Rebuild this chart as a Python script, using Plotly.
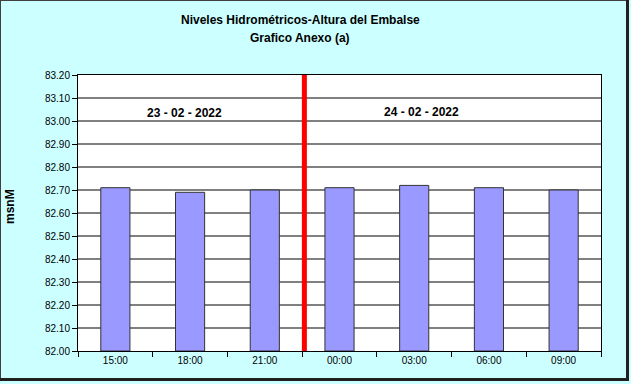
import plotly.graph_objects as go

categories = ["15:00", "18:00", "21:00", "00:00", "03:00", "06:00", "09:00"]
levels = [82.71, 82.69, 82.70, 82.71, 82.72, 82.71, 82.70]
y_ticks = [82.0 + 0.1 * i for i in range(13)]
y_tick_labels = [f"{v:.2f}" for v in y_ticks]
date_labels = ["23 - 02 - 2022", "24 - 02 - 2022"]
date_x = [0.93, 4.1]
date_y = [83.035, 83.04]
title_lines = ["Niveles Hidrométricos-Altura del Embalse", "Grafico Anexo (a)"]
divider_x = 2.53

W, H = 631, 384
L, R, T, B = 78, 30, 75, 33
fw, fh = W - L - R, H - T - B


def px(xp):
    return (xp - L) / fw


def py(yp):
    return (H - B - yp) / fh


fig = go.Figure()
fig.add_trace(go.Bar(
    x=list(range(len(categories))), y=[v - 82.0 for v in levels], base=82.0,
    marker=dict(color="#9999FF", line=dict(color="#333333", width=1)),
    width=0.39, showlegend=False,
))

fig.add_shape(type="line", xref="x", yref="paper", x0=divider_x, x1=divider_x,
              y0=0, y1=1, line=dict(color="#FF0000", width=5), layer="above")

for t, x, y in zip(date_labels, date_x, date_y):
    fig.add_annotation(x=x, y=y, xref="x", yref="y", text=t, showarrow=False,
                       font=dict(family="Liberation Sans", size=12, color="black", weight="bold"))

for t, yp in zip(title_lines, [20, 38]):
    fig.add_annotation(xref="paper", yref="paper", x=px(300), y=py(yp), text=t,
                       showarrow=False, xanchor="center", yanchor="middle",
                       font=dict(family="Liberation Sans", size=12, color="black", weight="bold"))

fig.add_annotation(xref="paper", yref="paper", x=px(10), y=py(207),
                   text="msnM", textangle=-90, showarrow=False, xanchor="center", yanchor="middle",
                   font=dict(family="Liberation Sans", size=12, color="black", weight="bold"))

fig.update_layout(
    width=W, height=H,
    margin=dict(l=L, r=R, t=T, b=B),
    paper_bgcolor="#CCFFFF", plot_bgcolor="white",
    font=dict(family="Liberation Sans", size=10, color="black"),
    bargap=0.61,
)
fig.update_xaxes(
    range=[-0.5, len(categories) - 0.5],
    tickmode="array", tickvals=list(range(len(categories))), ticktext=categories,
    showgrid=False, showline=True, linecolor="black", linewidth=1, mirror=True,
    ticks="", zeroline=False,
)
fig.update_xaxes(minor=dict(tickmode="array", tickvals=[i + 0.5 for i in range(-1, len(categories))],
                            ticks="outside", ticklen=5, tickcolor="black", showgrid=False))
fig.update_yaxes(
    range=[82.0, 83.2], tickmode="array", tickvals=y_ticks, ticktext=y_tick_labels,
    showgrid=True, gridcolor="#808080", gridwidth=1.5,
    showline=True, linecolor="black", linewidth=1, mirror=True,
    ticks="outside", ticklen=5, tickcolor="black", zeroline=False,
)

# chart frame: thin dark line top/left, thicker shadow right/bottom
fig.add_shape(type="line", xref="paper", yref="paper", x0=px(0.5), x1=px(0.5), y0=py(0), y1=py(381),
              line=dict(color="#404040", width=1))
fig.add_shape(type="line", xref="paper", yref="paper", x0=px(0), x1=px(628), y0=py(0.5), y1=py(0.5),
              line=dict(color="#404040", width=1))
fig.add_shape(type="line", xref="paper", yref="paper", x0=px(627.5), x1=px(627.5), y0=py(0), y1=py(381),
              line=dict(color="#202020", width=3))
fig.add_shape(type="line", xref="paper", yref="paper", x0=px(0), x1=px(629), y0=py(379.5), y1=py(379.5),
              line=dict(color="#202020", width=3))

fig.write_html("out.html")
